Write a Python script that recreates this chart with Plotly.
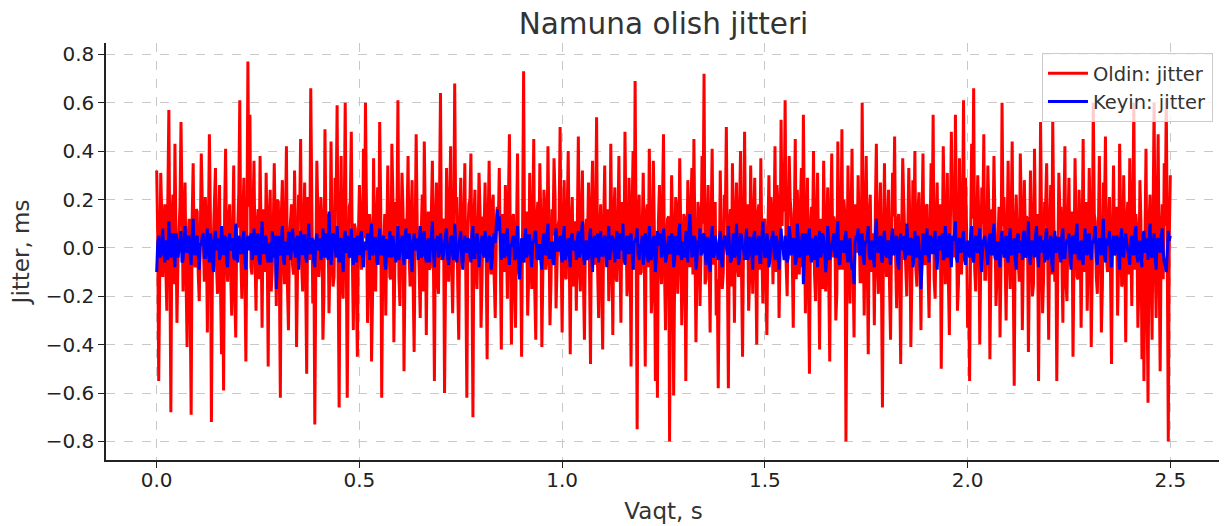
import plotly.graph_objects as go

# Jitter samples (ms); 2.5 ms spacing, 0..2.5 s
oldin_jitter = [
    0.32, 0.05, -0.55, -0.10, 0.31, 0.14, -0.12, 0.02, 0.18, -0.08, -0.26, 0.20, 0.57, -0.03, -0.68, 0.11, 0.22, -0.15, 0.43, 0.07,
    -0.31, -0.06, 0.05, 0.18, 0.52, -0.02, -0.18, 0.09, 0.27, -0.13, -0.41, 0.04, 0.12, -0.21, -0.69, 0.12, 0.35, -0.05, -0.08, 0.16,
    0.15, -0.11, -0.22, 0.03, 0.39, 0.19, -0.05, -0.14, 0.21, 0.08, -0.35, -0.04, 0.47, 0.13, -0.72, -0.09, 0.08, 0.22, 0.33, -0.07,
    -0.19, 0.10, 0.26, -0.17, -0.44, 0.01, -0.59, 0.15, 0.41, -0.06, -0.14, 0.12, 0.18, -0.10, -0.28, 0.05, 0.34, -0.19, -0.37, 0.08,
    0.09, 0.23, 0.61, -0.04, -0.21, 0.11, 0.29, -0.12, -0.47, 0.06, 0.77, 0.17, 0.55, -0.08, -0.11, 0.14, 0.36, -0.03, -0.26, 0.09,
    0.16, -0.13, 0.38, 0.05, -0.33, 0.16, 0.06, -0.10, 0.31, 0.02, -0.49, 0.12, 0.24, -0.18, -0.09, 0.07, 0.35, -0.05, -0.24, 0.20,
    0.19, -0.09, -0.62, 0.14, 0.28, -0.02, -0.15, 0.10, 0.42, -0.16, -0.34, 0.04, 0.13, 0.18, -0.07, -0.11, 0.32, 0.06, -0.41, -0.03,
    0.22, 0.12, 0.45, -0.07, -0.18, 0.09, 0.27, -0.14, -0.52, 0.21, 0.11, -0.05, 0.66, 0.13, -0.23, 0.02, -0.73, -0.10, 0.36, 0.15,
    -0.12, -0.04, 0.21, 0.11, -0.38, -0.20, 0.49, 0.08, 0.05, 0.14, -0.27, -0.06, 0.44, 0.03, -0.16, -0.12, 0.29, 0.17, 0.59, -0.09,
    -0.66, 0.06, 0.38, -0.15, -0.21, 0.12, 0.60, 0.01, -0.62, -0.08, 0.17, 0.19, 0.48, -0.03, -0.34, 0.10, 0.08, -0.17, -0.45, 0.05,
    0.26, 0.13, -0.09, -0.06, 0.41, 0.04, 0.60, 0.15, -0.31, -0.11, 0.14, 0.08, -0.47, -0.19, 0.37, 0.02, -0.18, 0.11, 0.25, -0.07,
    0.52, 0.18, -0.62, -0.09, 0.06, 0.14, -0.28, -0.03, 0.34, 0.07, -0.12, -0.13, 0.43, 0.22, -0.39, -0.05, 0.19, 0.10, 0.61, -0.12,
    -0.24, 0.04, 0.31, 0.16, -0.51, -0.08, 0.12, 0.11, 0.38, -0.02, -0.16, 0.13, 0.28, -0.15, -0.43, 0.06, 0.47, 0.09, 0.03, -0.10,
    -0.29, 0.07, 0.22, -0.18, 0.44, 0.12, -0.36, 0.03, 0.15, -0.09, -0.08, 0.15, 0.36, -0.04, -0.55, 0.10, 0.27, -0.13, -0.19, 0.21,
    0.64, -0.05, 0.11, 0.12, -0.60, -0.11, 0.33, 0.06, -0.14, 0.17, 0.42, -0.08, -0.27, 0.02, 0.68, 0.14, 0.21, -0.16, -0.38, 0.09,
    0.29, -0.03, -0.06, 0.10, 0.35, -0.14, -0.62, 0.05, 0.18, 0.20, 0.39, -0.07, -0.70, 0.13, 0.24, -0.10, -0.17, 0.04, 0.31, 0.16,
    -0.33, -0.12, 0.13, 0.08, 0.27, -0.02, -0.46, 0.11, 0.36, -0.06, -0.11, 0.18, 0.22, -0.13, -0.29, 0.03, 0.17, 0.09, 0.33, -0.05,
    -0.42, 0.14, 0.08, -0.10, 0.26, 0.06, -0.21, 0.19, 0.47, -0.04, -0.40, 0.12, 0.14, -0.16, -0.33, 0.07, 0.39, -0.08, -0.12, 0.02,
    -0.45, 0.10, 0.73, -0.06, 0.06, 0.15, -0.28, -0.12, 0.31, 0.03, -0.17, 0.09, 0.45, -0.18, -0.38, 0.13, 0.19, -0.01, 0.35, 0.11,
    -0.41, -0.09, 0.24, 0.17, -0.09, -0.04, 0.42, 0.08, -0.32, -0.14, 0.16, 0.05, 0.37, 0.21, -0.25, -0.07, 0.09, 0.12, 0.50, -0.03,
    -0.35, 0.06, 0.28, -0.11, -0.13, 0.14, 0.40, -0.02, -0.44, 0.09, 0.21, -0.16, 0.05, 0.11, -0.26, 0.04, 0.46, -0.08, -0.18, 0.15,
    0.32, -0.13, -0.38, 0.07, 0.12, 0.02, 0.27, -0.10, -0.48, 0.18, 0.36, -0.05, -0.07, 0.12, 0.54, -0.09, -0.29, 0.06, 0.18, -0.15,
    -0.42, 0.11, 0.34, -0.03, 0.09, 0.16, -0.22, -0.07, 0.43, 0.04, -0.36, 0.13, 0.25, -0.12, -0.14, 0.08, 0.38, -0.02, -0.31, 0.19,
    0.15, -0.06, 0.48, 0.10, -0.20, -0.14, 0.29, 0.05, -0.49, 0.15, 0.40, -0.09, 0.69, 0.03, -0.75, 0.12, 0.22, -0.11, -0.10, 0.07,
    0.31, -0.02, -0.49, 0.14, 0.18, -0.08, 0.41, 0.10, -0.27, -0.17, 0.36, 0.06, -0.55, 0.02, -0.62, 0.11, 0.26, -0.05, -0.15, 0.18,
    0.47, -0.10, -0.34, 0.04, 0.12, 0.13, -0.80, -0.06, 0.30, 0.09, -0.61, -0.12, 0.21, 0.17, -0.19, -0.03, 0.37, 0.08, -0.32, -0.14,
    0.14, 0.12, -0.55, -0.07, 0.28, 0.05, -0.08, 0.16, 0.33, -0.11, 0.45, 0.03, -0.39, -0.09, 0.19, 0.14, -0.24, -0.02, 0.38, 0.10,
    0.72, -0.15, -0.13, 0.08, 0.26, -0.04, -0.35, 0.11, 0.41, -0.07, 0.07, 0.19, -0.28, -0.13, -0.58, 0.06, 0.32, 0.01, -0.17, -0.10,
    0.22, 0.13, 0.50, -0.05, -0.58, 0.09, 0.16, -0.16, 0.35, 0.04, -0.31, 0.12, 0.27, -0.08, -0.12, 0.15, 0.40, -0.11, -0.45, 0.07,
    0.48, -0.03, 0.10, 0.18, -0.26, -0.12, 0.34, 0.05, -0.19, 0.10, 0.29, -0.06, -0.40, 0.14, 0.18, -0.09, 0.37, 0.02, -0.23, 0.11,
    0.12, -0.14, -0.36, 0.06, 0.30, -0.01, 0.21, 0.13, -0.15, 0.08, 0.42, -0.10, 0.26, 0.17, -0.29, -0.04, 0.53, 0.09, 0.35, 0.15,
    0.61, -0.07, -0.20, 0.12, 0.38, 0.20, 0.14, -0.03, -0.33, 0.10, 0.45, -0.13, 0.24, 0.05, -0.11, 0.16, 0.33, -0.08, 0.55, 0.11,
    -0.27, 0.04, 0.29, -0.15, -0.52, 0.09, 0.17, 0.02, 0.40, -0.11, -0.22, 0.14, 0.31, -0.06, -0.42, 0.12, 0.08, -0.17, 0.36, 0.08,
    -0.18, 0.06, 0.25, -0.12, -0.47, 0.15, 0.39, -0.04, 0.13, 0.10, -0.30, -0.19, 0.44, 0.07, -0.09, 0.03, 0.49, -0.09, 0.20, 0.13,
    -0.80, -0.11, 0.34, 0.05, -0.23, 0.12, 0.41, -0.08, -0.37, 0.18, 0.16, -0.02, 0.30, 0.09, -0.14, -0.14, 0.60, 0.06, -0.28, 0.11,
    0.38, -0.05, -0.44, 0.14, 0.22, -0.10, 0.06, 0.03, -0.32, 0.16, 0.43, -0.07, -0.19, 0.11, 0.27, -0.13, -0.66, 0.04, 0.35, -0.01,
    -0.12, 0.09, 0.24, -0.16, -0.38, 0.06, 0.31, 0.13, 0.46, -0.04, -0.25, 0.10, 0.14, -0.12, -0.48, 0.07, 0.37, 0.19, 0.09, -0.08,
    -0.20, 0.02, 0.33, 0.11, -0.41, -0.14, 0.28, 0.05, 0.40, -0.09, -0.16, 0.15, 0.23, -0.03, -0.34, 0.12, 0.39, -0.06, -0.07, 0.17,
    0.18, -0.10, -0.29, 0.07, 0.35, 0.03, 0.55, -0.13, -0.21, 0.10, 0.27, -0.05, 0.12, 0.18, -0.50, -0.08, 0.42, 0.14, -0.15, 0.01,
    0.31, -0.12, -0.36, 0.09, 0.48, 0.16, 0.20, -0.04, 0.55, 0.11, -0.26, -0.15, 0.37, 0.06, -0.11, 0.13, 0.61, -0.02, 0.29, 0.08,
    -0.33, -0.17, -0.55, 0.05, 0.43, 0.12, 0.66, -0.09, -0.18, 0.07, 0.30, 0.14, -0.40, -0.06, 0.25, 0.10, 0.47, -0.13, -0.13, 0.03,
    0.34, 0.15, -0.46, -0.08, 0.16, 0.04, 0.38, 0.11, -0.24, -0.12, 0.10, 0.17, -0.37, -0.05, 0.60, 0.09, 0.21, -0.16, -0.30, 0.06,
    0.36, -0.03, -0.17, 0.13, 0.44, -0.10, -0.57, 0.07, 0.22, 0.02, -0.08, -0.14, 0.39, 0.16, -0.34, -0.07, 0.28, 0.05, 0.13, 0.12,
    -0.43, -0.08, 0.32, 0.10, -0.20, -0.15, 0.41, 0.04, 0.05, 0.14, -0.55, -0.06, 0.52, 0.09, -0.27, -0.12, 0.19, 0.18, 0.35, -0.02,
    -0.38, 0.07, 0.26, -0.11, 0.52, 0.13, -0.14, 0.05, -0.55, -0.09, 0.31, 0.16, 0.17, -0.04, -0.31, 0.12, 0.42, -0.14, -0.22, 0.08,
    0.29, -0.06, 0.08, 0.15, -0.45, -0.02, 0.37, 0.10, -0.12, -0.13, 0.24, 0.07, -0.33, 0.03, 0.45, -0.10, 0.15, 0.19, -0.26, -0.05,
    0.33, 0.11, -0.41, -0.08, 0.60, 0.14, 0.11, -0.12, -0.19, 0.06, 0.38, 0.02, -0.35, -0.16, 0.27, 0.13, 0.46, -0.04, -0.10, 0.09,
    0.21, -0.10, -0.48, 0.06, 0.34, -0.03, 0.07, 0.17, -0.28, -0.07, 0.43, 0.12, -0.16, -0.14, 0.30, 0.05, -0.39, 0.10, 0.19, -0.11,
    0.37, 0.04, -0.24, 0.13, 0.60, -0.09, 0.14, 0.08, -0.33, -0.15, 0.28, 0.11, -0.46, -0.06, -0.55, 0.03, 0.41, -0.18, -0.64, 0.10,
    0.22, -0.07, -0.38, 0.12, 0.60, -0.04, -0.29, 0.15, 0.47, -0.10, -0.51, 0.06, 0.18, -0.13, 0.35, 0.09, 0.62, -0.02, -0.80, 0.05,
    0.30,
]

keyin_jitter = [
    -0.10, 0.02, 0.05, -0.04, -0.03, 0.05, 0.08, -0.02, -0.06, 0.03, 0.02, -0.05, 0.11, 0.01, -0.04, 0.04, 0.06, -0.03, -0.08, 0.06,
    0.03, -0.04, -0.01, 0.03, 0.07, -0.06, -0.05, 0.02, 0.09, -0.01, -0.02, 0.05, 0.04, -0.03, -0.07, 0.06, 0.12, -0.02, -0.03, 0.04,
    0.05, -0.03, -0.09, 0.02, 0.01, 0.05, 0.06, -0.04, -0.04, 0.01, 0.08, -0.02, -0.06, 0.06, 0.03, -0.05, -0.10, 0.03, 0.07, -0.01,
    0.02, 0.04, -0.05, -0.03, 0.09, 0.02, -0.03, 0.05, 0.04, -0.06, -0.08, 0.03, 0.06, -0.01, 0.00, 0.04, -0.04, -0.05, 0.10, 0.02,
    -0.06, 0.05, 0.03, -0.02, -0.02, 0.04, 0.07, -0.05, -0.09, 0.03, 0.05, -0.01, 0.01, 0.06, -0.05, -0.03, 0.08, 0.02, -0.03, 0.04,
    0.06, -0.05, -0.07, 0.03, 0.11, -0.02, -0.02, 0.05, 0.04, -0.04, -0.06, 0.01, 0.02, -0.06, 0.07, 0.03, -0.04, 0.05, -0.17, -0.08,
    0.05, -0.02, -0.03, 0.04, 0.09, -0.05, -0.07, 0.02, 0.02, -0.03, 0.06, 0.06, -0.05, -0.01, 0.08, 0.03, -0.01, -0.04, 0.04, 0.05,
    -0.09, -0.03, 0.07, 0.01, -0.03, 0.05, 0.05, -0.04, -0.06, 0.02, 0.10, -0.02, -0.02, 0.04, 0.03, -0.06, -0.08, 0.03, 0.06, -0.01,
    0.01, 0.04, -0.05, -0.03, 0.08, 0.02, -0.04, 0.06, 0.03, -0.05, 0.15, 0.03, -0.07, -0.02, 0.06, 0.05, -0.02, -0.04, 0.09, 0.01,
    -0.06, 0.03, 0.04, -0.05, -0.10, 0.04, 0.07, -0.02, 0.00, 0.05, -0.04, -0.03, 0.08, 0.01, -0.07, 0.04, 0.03, -0.06, 0.05, 0.02,
    -0.03, 0.05, 0.07, -0.04, -0.08, 0.02, 0.02, -0.01, 0.06, 0.03, -0.05, 0.06, 0.10, -0.03, -0.02, 0.04, 0.04, -0.05, -0.07, 0.02,
    0.08, -0.02, -0.03, 0.04, 0.05, -0.06, -0.09, 0.03, 0.03, -0.04, 0.07, 0.02, -0.04, 0.05, 0.01, -0.03, -0.06, 0.01, 0.09, -0.05,
    -0.02, 0.03, 0.05, -0.02, -0.07, 0.05, 0.08, -0.04, -0.04, 0.06, 0.03, -0.05, -0.10, 0.02, 0.06, -0.01, 0.02, 0.04, -0.05, 0.03,
    0.09, -0.04, -0.03, 0.05, 0.07, -0.03, -0.06, 0.02, 0.04, -0.06, -0.01, 0.04, 0.11, -0.02, -0.08, 0.03, 0.03, 0.05, -0.04, -0.01,
    0.06, 0.02, -0.05, -0.03, 0.02, 0.06, 0.08, -0.04, -0.07, 0.01, 0.04, 0.05, -0.03, -0.05, 0.10, 0.03, -0.06, -0.02, 0.01, 0.04,
    0.07, -0.05, -0.09, 0.02, 0.05, -0.01, -0.02, 0.04, 0.03, -0.03, -0.06, 0.06, 0.09, -0.04, -0.04, 0.02, 0.06, 0.03, -0.08, -0.02,
    0.03, 0.05, -0.02, -0.04, 0.07, 0.03, -0.06, -0.02, 0.05, 0.04, -0.09, -0.05, 0.04, 0.06, 0.02, 0.08, 0.16, 0.07, 0.13, 0.04,
    -0.05, 0.02, 0.06, -0.04, -0.03, 0.05, 0.08, -0.03, -0.07, 0.01, 0.01, 0.04, 0.05, -0.05, -0.04, 0.03, 0.09, -0.06, -0.13, -0.05,
    0.04, -0.02, -0.06, 0.03, 0.08, -0.04, -0.02, 0.05, 0.05, -0.03, -0.08, 0.02, 0.03, 0.06, 0.07, -0.04, -0.05, 0.01, 0.01, -0.05,
    -0.09, 0.03, 0.06, -0.02, -0.03, 0.05, 0.10, -0.04, -0.04, 0.02, 0.02, -0.06, -0.07, 0.04, 0.08, -0.01, -0.01, 0.03, 0.05, -0.03,
    -0.06, 0.04, 0.09, -0.05, -0.03, 0.02, 0.04, -0.03, -0.08, 0.05, 0.06, -0.01, 0.00, 0.03, -0.05, 0.04, 0.07, -0.04, -0.02, 0.06,
    0.11, -0.03, -0.07, 0.02, 0.03, -0.05, -0.04, 0.04, 0.08, -0.02, -0.10, 0.03, 0.05, -0.04, 0.02, 0.06, -0.06, 0.01, 0.07, -0.03,
    -0.03, 0.04, 0.05, -0.02, -0.08, 0.03, 0.09, -0.05, -0.01, 0.05, 0.04, -0.03, -0.06, 0.02, 0.07, -0.04, -0.04, 0.06, 0.02, -0.01,
    0.10, -0.04, -0.07, 0.03, 0.05, -0.02, -0.02, 0.05, 0.06, -0.05, -0.09, 0.02, 0.03, 0.04, 0.08, -0.03, -0.05, 0.01, 0.01, 0.05,
    -0.07, -0.03, 0.06, 0.04, -0.03, -0.06, 0.09, 0.02, -0.05, -0.01, 0.04, 0.05, -0.10, -0.04, 0.07, 0.03, 0.01, 0.06, -0.04, -0.02,
    0.08, 0.03, -0.06, -0.04, 0.03, 0.05, -0.02, -0.02, 0.06, 0.04, -0.08, -0.05, 0.05, 0.01, -0.03, 0.06, 0.10, -0.03, -0.05, 0.02,
    0.02, -0.04, 0.07, 0.03, -0.06, 0.06, 0.14, 0.05, -0.04, -0.02, 0.05, 0.04, -0.09, -0.05, 0.03, 0.02, 0.08, -0.03, -0.02, 0.05,
    0.06, -0.02, -0.07, 0.04, 0.04, -0.06, -0.10, 0.03, 0.09, -0.04, -0.03, 0.05, 0.02, -0.01, -0.05, 0.03, 0.07, -0.05, -0.08, 0.02,
    0.05, 0.04, -0.01, -0.03, 0.09, 0.02, -0.06, -0.05, 0.03, 0.06, -0.04, -0.02, 0.10, 0.03, -0.07, -0.04, 0.06, 0.05, 0.00, -0.01,
    -0.05, 0.03, 0.08, -0.05, -0.03, 0.04, 0.04, -0.02, -0.09, 0.05, 0.07, -0.03, -0.02, 0.02, 0.05, -0.06, -0.06, 0.04, 0.11, 0.01,
    -0.04, -0.03, 0.06, 0.02, -0.08, -0.05, 0.03, 0.04, 0.07, -0.02, -0.05, 0.05, 0.02, -0.04, -0.09, 0.03, 0.08, 0.01, -0.01, -0.05,
    0.05, 0.02, -0.06, -0.04, 0.09, 0.05, -0.03, -0.01, 0.04, 0.03, -0.07, -0.05, 0.10, 0.04, -0.04, -0.02, 0.03, 0.06, -0.15, -0.07,
    0.06, -0.02, -0.03, 0.05, 0.08, -0.03, -0.06, 0.04, 0.02, -0.05, 0.05, 0.02, -0.08, 0.03, 0.07, -0.04, -0.02, 0.06, 0.04, -0.01,
    -0.10, -0.04, 0.09, 0.03, -0.05, -0.02, 0.01, 0.05, 0.06, -0.03, -0.04, 0.04, 0.11, -0.06, -0.07, 0.02, 0.03, 0.01, -0.02, 0.04,
    0.07, -0.03, -0.06, 0.02, 0.04, -0.05, -0.09, -0.07, -0.15, 0.02, 0.05, 0.04, 0.08, -0.02, -0.03, 0.05, 0.06, -0.04, -0.07, 0.03,
    0.02, 0.05, 0.09, -0.03, -0.05, 0.02, 0.03, -0.04, -0.08, 0.06, 0.12, -0.01, -0.02, 0.03, 0.05, -0.05, -0.06, 0.04, 0.07, -0.02,
    -0.04, 0.02, 0.03, -0.04, -0.07, 0.05, 0.08, -0.03, -0.02, 0.04, 0.05, -0.06, -0.09, 0.02, 0.06, -0.01, 0.01, 0.05, -0.05, -0.03,
    0.10, 0.04, -0.03, -0.02, 0.04, 0.03, -0.08, -0.05, 0.07, 0.01, -0.04, 0.05, 0.02, -0.06, -0.17, -0.08, 0.06, 0.02, -0.03, 0.04,
    0.08, -0.03, -0.06, 0.05, 0.04, -0.02, -0.02, 0.04, 0.07, -0.05, -0.09, 0.02, 0.05, -0.01, 0.02, 0.06, -0.05, -0.04, 0.09, 0.03,
    -0.04, 0.02, 0.06, -0.03, -0.08, 0.05, 0.03, 0.06, 0.11, -0.04, -0.06, 0.03, 0.04, -0.02, -0.01, 0.04, 0.07, -0.05, -0.07, 0.01,
    0.03, -0.02, -0.04, 0.05, 0.09, -0.04, -0.06, 0.03, 0.05, -0.01, -0.02, 0.04, 0.08, -0.06, -0.10, 0.02, 0.04, 0.05, 0.01, -0.03,
    -0.07, 0.03, 0.06, -0.02, -0.03, 0.05, 0.10, -0.04, -0.05, 0.02, 0.02, -0.05, -0.08, 0.04, 0.07, -0.01, -0.04, 0.03, 0.05, -0.04,
    -0.06, 0.04, 0.08, -0.03, -0.02, 0.02, 0.04, -0.05, -0.09, 0.05, 0.06, -0.02, 0.00, 0.03, -0.05, 0.06, 0.07, -0.04, -0.03, 0.02,
    0.11, -0.04, -0.07, 0.02, 0.03, -0.01, -0.04, 0.05, 0.09, -0.03, -0.08, 0.04, 0.05, -0.02, 0.02, 0.03, -0.06, 0.05, 0.08, -0.05,
    -0.03, 0.02, 0.05, -0.06, -0.10, 0.03, 0.07, -0.02, -0.01, 0.04, 0.04, -0.03, -0.06, 0.05, 0.08, -0.04, -0.04, 0.01, 0.03, 0.03,
    0.06, -0.03, -0.09, 0.04, 0.05, -0.02, -0.02, 0.06, 0.10, -0.04, -0.05, 0.01, 0.03, -0.05, -0.07, 0.03, 0.08, -0.02, -0.03, 0.05,
    0.06, -0.02, -0.05, 0.03, 0.02, 0.05, 0.09, -0.04, -0.07, 0.02, 0.04, -0.01, -0.03, 0.06, 0.12, -0.03, -0.06, 0.04, 0.01, 0.03,
    0.07, -0.04, -0.08, 0.02, 0.05, -0.03, -0.02, 0.05, 0.04, -0.05, -0.09, 0.04, 0.08, -0.02, -0.04, 0.03, 0.06, 0.02, -0.01, -0.04,
    -0.07, 0.03, 0.05, -0.02, -0.03, 0.06, 0.09, -0.03, -0.06, 0.01, 0.03, -0.04, -0.08, 0.05, 0.07, -0.02, 0.02, 0.04, -0.05, 0.06,
    0.10, -0.03, -0.04, 0.02, 0.06, -0.04, -0.09, 0.03, 0.04, 0.01, -0.02, 0.05, 0.08, -0.02, -0.06, -0.07, -0.10, -0.02, 0.07, 0.03,
    0.05,
]

duration_s = 2.5
x_tick_vals = [0.0, 0.5, 1.0, 1.5, 2.0, 2.5]
y_tick_vals = [-0.8, -0.6, -0.4, -0.2, 0.0, 0.2, 0.4, 0.6, 0.8]


def time_axis(n):
    return [duration_s * i / (n - 1) for i in range(n)]


fig = go.Figure()
fig.add_trace(go.Scatter(
    x=time_axis(len(oldin_jitter)), y=oldin_jitter, mode="lines",
    name="Oldin: jitter", line=dict(color="#ff0000", width=3),
))
fig.add_trace(go.Scatter(
    x=time_axis(len(keyin_jitter)), y=keyin_jitter, mode="lines",
    name="Keyin: jitter", line=dict(color="#0000ff", width=3),
))

font_family = "DejaVu Sans, Arial, sans-serif"
axis_common = dict(
    showgrid=True, gridcolor="#c8c8c8", griddash="dash", gridwidth=1,
    showline=True, linecolor="#222222", linewidth=1.5,
    ticks="outside", ticklen=6, tickwidth=1.3, tickcolor="#222222",
    tickfont=dict(family=font_family, size=20, color="#222222"),
    zeroline=False, mirror=False, tickformat=".1f",
)

fig.update_layout(
    width=1219, height=518,
    margin=dict(l=98, r=6, t=35, b=64),
    paper_bgcolor="white", plot_bgcolor="white",
    title=dict(text="Namuna olish jitteri", xref="paper", x=0.5, xanchor="center",
               y=0.969, yanchor="middle",
               font=dict(family=font_family, size=29.5, color="#333333")),
    xaxis=dict(range=[-0.125, 2.625], tickvals=x_tick_vals, ticklabelstandoff=-5,
               title=dict(text="Vaqt, s", standoff=12,
                          font=dict(family=font_family, size=23, color="#333333")),
               **axis_common),
    yaxis=dict(range=[-0.877, 0.847], tickvals=y_tick_vals,
               title=dict(text="Jitter, ms", standoff=10,
                          font=dict(family=font_family, size=23, color="#333333")),
               **axis_common),
    legend=dict(x=0.9928, y=0.976, xanchor="right", yanchor="top",
                bgcolor="rgba(255,255,255,0.8)", bordercolor="#cccccc", borderwidth=1,
                font=dict(family=font_family, size=19.5, color="#333333"),
                itemwidth=40),
    showlegend=True,
)

fig.write_html("out.html")
